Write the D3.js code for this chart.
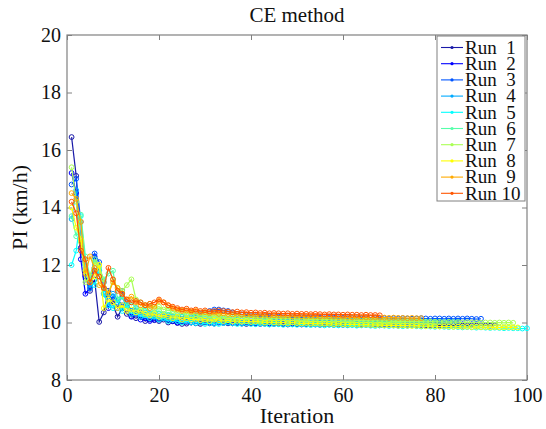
<!DOCTYPE html>
<meta charset="utf-8">
<script src="https://d3js.org/d3.v7.min.js"></script>
<style>
  body { margin: 0; background: #fff; }
  text { font-family: "Liberation Serif", "Times New Roman", serif; fill: #111; }
</style>
<body>
<div id="my_dataviz"></div>
<script>

// series values, one array per run (iteration 1..N)
var run1 = [16.45,15.1,12.6,11.6,11.1,11.5,10.02,10.35,11.1,10.6,10.2,10.5,10.3,10.22,10.15,10.2,10.05,10.1,10.08,10.05,
  10.1,10.0,10.04,9.98,9.95,9.96,10.0,9.97,9.95,10.0,9.97,9.96,10.0,9.98,9.97,9.97,9.98,9.96,9.95,9.97,
  9.96,9.95,9.96,9.94,9.95,9.96,9.94,9.93,9.95,9.94,9.93,9.94,9.95,9.93,9.92,9.94,9.93,9.92,9.93,9.92,
  9.91,9.93,9.92,9.91,9.92,9.91,9.92,9.9,9.91,9.92,9.91,9.9,9.91,9.9,9.92,9.9,9.91,9.9,9.9,9.91,
  9.9,9.89,9.9,9.91,9.9,9.89,9.9,9.9,9.89,9.9,9.9,9.89,9.9]
var run2 = [15.2,14.5,12.2,11.0,11.2,12.3,11.8,11.4,10.5,10.8,10.5,11.1,10.6,10.2,10.4,10.1,10.15,10.05,10.1,10.1,
  10.15,10.1,10.05,10.0,10.05,10.02,10.0,10.04,10.0,10.02,10.0,9.98,10.0,10.02,10.0,9.99,10.0,9.98,10.0,9.99,
  9.98,10.0,9.99,9.97,9.98,9.99,9.97,9.98,9.97,9.96,9.98,9.97,9.96,9.97,9.96,9.95,9.97,9.96,9.95,9.96,
  9.95,9.96,9.95,9.94,9.95,9.96,9.95,9.94,9.95,9.94,9.95,9.94,9.93,9.94,9.95,9.94,9.93,9.94,9.93,9.94,
  9.93,9.94,9.93,9.93,9.94,9.93,9.92,9.93]
var run3 = [14.8,15.0,13.5,12.0,11.3,12.4,12.1,11.0,10.6,10.9,10.8,10.6,10.7,10.4,10.3,10.35,10.2,10.25,10.2,10.2,
  10.25,10.2,10.15,10.2,10.2,10.15,10.2,10.25,10.3,10.35,10.4,10.45,10.45,10.42,10.4,10.35,10.3,10.28,10.25,10.25,
  10.22,10.2,10.22,10.2,10.18,10.2,10.18,10.17,10.18,10.17,10.18,10.16,10.17,10.16,10.17,10.15,10.16,10.17,10.15,10.16,
  10.15,10.16,10.15,10.14,10.15,10.16,10.15,10.14,10.15,10.14,10.15,10.14,10.15,10.14,10.13,10.14,10.15,10.14,10.13,10.14,
  10.14,10.13,10.14,10.13,10.14,10.13,10.14,10.13,10.12,10.13]
var run4 = [13.6,14.6,12.9,11.8,11.2,11.9,11.6,11.2,10.9,11.0,10.7,10.9,10.5,10.4,10.5,10.3,10.35,10.3,10.25,10.3,
  10.2,10.25,10.2,10.15,10.2,10.18,10.15,10.2,10.15,10.12,10.15,10.1,10.12,10.15,10.1,10.12,10.1,10.08,10.1,10.12,
  10.1,10.08,10.1,10.08,10.06,10.08,10.1,10.08,10.06,10.08,10.06,10.07,10.05,10.06,10.07,10.05,10.06,10.05,10.04,10.06,
  10.05,10.04,10.05,10.06,10.04,10.05,10.04,10.03,10.05,10.04,10.03,10.04,10.03,10.04,10.03,10.02,10.03,10.04,10.03,10.02,
  10.03,10.02,10.03,10.02,10.02]
var run5 = [12.0,12.5,13.7,12.0,11.5,11.3,11.8,11.0,10.6,10.5,10.8,10.4,10.6,10.3,10.35,10.2,10.25,10.15,10.2,10.1,
  10.15,10.05,10.1,10.05,10.0,10.05,10.0,9.98,10.0,9.95,9.98,9.96,9.95,9.98,10.0,9.97,9.95,9.96,9.98,9.95,
  9.94,9.96,9.95,9.93,9.95,9.94,9.92,9.94,9.93,9.92,9.94,9.92,9.91,9.93,9.92,9.9,9.92,9.91,9.9,9.92,
  9.9,9.91,9.89,9.9,9.91,9.89,9.88,9.9,9.89,9.88,9.89,9.88,9.87,9.88,9.89,9.87,9.86,9.87,9.86,9.85,
  9.86,9.85,9.84,9.85,9.84,9.83,9.84,9.83,9.82,9.83,9.82,9.81,9.82,9.81,9.8,9.81,9.8,9.8,9.79,9.8]
var run6 = [13.7,13.0,13.75,12.3,11.6,12.2,11.9,11.5,11.7,11.8,10.8,10.9,10.6,10.7,10.5,10.45,10.5,10.4,10.35,10.4,
  10.3,10.35,10.3,10.25,10.3,10.25,10.2,10.22,10.2,10.18,10.2,10.15,10.18,10.15,10.12,10.15,10.12,10.1,10.12,10.1,
  10.1,10.08,10.1,10.07,10.08,10.06,10.08,10.05,10.06,10.05,10.06,10.04,10.05,10.04,10.03,10.05,10.03,10.02,10.04,10.02,
  10.03,10.02,10.01,10.02,10.0,10.02,10.01,10.0,10.01,10.0,9.99,10.0,9.99,9.98,9.99,9.98,9.99,9.98,9.97,9.98]
var run7 = [15.4,14.2,12.8,11.4,11.6,12.1,12.0,11.4,11.0,11.5,11.2,11.1,11.3,11.5,10.8,10.7,10.6,10.65,10.5,10.55,
  10.45,10.5,10.4,10.35,10.4,10.3,10.35,10.3,10.25,10.3,10.25,10.28,10.22,10.25,10.2,10.22,10.2,10.18,10.2,10.18,
  10.16,10.18,10.15,10.17,10.15,10.14,10.15,10.13,10.14,10.12,10.13,10.12,10.11,10.12,10.1,10.11,10.1,10.09,10.1,10.08,
  10.09,10.08,10.07,10.08,10.06,10.07,10.06,10.05,10.06,10.05,10.04,10.05,10.04,10.03,10.04,10.03,10.03,10.02,10.03,10.02,
  10.02,10.01,10.02,10.01,10.01,10.0,10.01,10.0,10.0,9.99,10.0,10.0,9.99,10.0,9.99,10.0,9.99]
var run8 = [14.0,13.3,12.9,11.8,11.4,11.6,12.0,10.5,10.8,10.7,10.5,10.6,10.4,10.45,10.35,10.4,10.3,10.25,10.3,10.2,
  10.25,10.2,10.15,10.2,10.1,10.15,10.1,10.12,10.08,10.1,10.05,10.1,10.08,10.05,10.08,10.04,10.06,10.03,10.05,10.02,
  10.04,10.02,10.0,10.02,10.0,9.99,10.0,9.98,10.0,9.98,9.97,9.98,9.96,9.97,9.96,9.95,9.96,9.94,9.95,9.94,
  9.93,9.94,9.93,9.92,9.93,9.92,9.91,9.92,9.9,9.91,9.9,9.89,9.9,9.89,9.88,9.89,9.88,9.87,9.88,9.87,
  9.86,9.87,9.86,9.85,9.86,9.85,9.85,9.84,9.85,9.84,9.84,9.83,9.84,9.83,9.83,9.84,9.83,9.83]
var run9 = [14.5,14.3,13.5,11.7,12.3,11.9,11.3,11.2,11.0,11.4,11.2,11.0,10.8,10.9,10.7,10.6,10.6,10.5,10.55,10.75,
  10.7,10.6,10.5,10.45,10.4,10.42,10.38,10.4,10.35,10.36,10.32,10.34,10.3,10.32,10.3,10.28,10.3,10.27,10.28,10.26,
  10.27,10.25,10.26,10.24,10.25,10.24,10.23,10.24,10.22,10.23,10.22,10.21,10.22,10.21,10.2,10.21,10.2,10.2,10.19,10.2,
  10.19,10.18,10.19,10.18,10.18,10.17,10.18,10.17,10.17,10.16,10.17,10.16,10.16,10.15,10.16,10.15,10.15]
var run10 = [14.2,13.8,12.5,12.2,11.4,11.8,11.6,11.2,11.9,11.5,11.1,11.0,10.8,10.7,10.75,10.7,10.6,10.65,10.7,10.8,
  10.7,10.6,10.55,10.5,10.45,10.48,10.42,10.45,10.4,10.42,10.38,10.4,10.42,10.4,10.38,10.36,10.38,10.35,10.36,10.34,
  10.35,10.33,10.34,10.32,10.33,10.32,10.31,10.32,10.3,10.31,10.3,10.3,10.29,10.3,10.29,10.28,10.29,10.28,10.28,10.27,
  10.28,10.27,10.27,10.26,10.27,10.26,10.26,10.25]

var runNames = ["Run  1","Run  2","Run  3","Run  4","Run  5","Run  6","Run  7","Run  8","Run  9","Run 10"]
var runValues = [run1, run2, run3, run4, run5, run6, run7, run8, run9, run10]
// MATLAB jet(10)
var runColors = ["#1a1aa8","#0000ff","#0055ff","#00aaff","#00ffff","#55ffaa","#aaff55","#ffff00","#ffaa00","#ff5500"]

var xTicks = [0, 20, 40, 60, 80, 100]
var yTicks = [8, 10, 12, 14, 16, 18, 20]

// set the dimensions and margins of the graph
var width = 546,
    height = 429,
    margin = {top: 35, right: 19, bottom: 49, left: 67}

var svg = d3.select("#my_dataviz")
  .append("svg")
    .attr("width", width)
    .attr("height", height)

var x = d3.scaleLinear().domain([0, 100]).range([margin.left, width - margin.right])
var y = d3.scaleLinear().domain([8, 20]).range([height - margin.bottom, margin.top])

var axisColor = "#808080"

// axes (ticks inward on all four sides, like matlab box on)
function styleAxis(g) {
  g.select(".domain").remove()
  g.selectAll(".tick line").attr("stroke", axisColor)
  g.selectAll(".tick text").style("font-size", "20px").attr("fill", "#111")
}

svg.append("g")
  .attr("transform", "translate(0," + y(8) + ")")
  .call(d3.axisBottom(x).tickValues(xTicks).tickSizeInner(-5).tickSizeOuter(0).tickPadding(8))
  .call(styleAxis)

svg.append("g")
  .attr("transform", "translate(0," + y(20) + ")")
  .call(d3.axisTop(x).tickValues(xTicks).tickSizeInner(-5).tickSizeOuter(0).tickFormat(""))
  .call(styleAxis)

svg.append("g")
  .attr("transform", "translate(" + x(0) + ",0)")
  .call(d3.axisLeft(y).tickValues(yTicks).tickSizeInner(-5).tickSizeOuter(0).tickPadding(6))
  .call(styleAxis)

svg.append("g")
  .attr("transform", "translate(" + x(100) + ",0)")
  .call(d3.axisRight(y).tickValues(yTicks).tickSizeInner(-5).tickSizeOuter(0).tickFormat(""))
  .call(styleAxis)

// plot box
svg.append("rect")
  .attr("x", x(0))
  .attr("y", y(20))
  .attr("width", x(100) - x(0))
  .attr("height", y(8) - y(20))
  .attr("fill", "none")
  .attr("stroke", axisColor)
  .attr("stroke-width", 1.2)

// lines and markers
var line = d3.line()
  .x(function(d, i) { return x(i + 1) })
  .y(function(d) { return y(d) })

runValues.forEach(function(vals, k) {
  var g = svg.append("g")
  g.append("path")
    .datum(vals)
    .attr("d", line)
    .attr("fill", "none")
    .attr("stroke", runColors[k])
    .attr("stroke-width", 1.2)
  g.selectAll("circle")
    .data(vals)
    .enter()
    .append("circle")
      .attr("cx", function(d, i) { return x(i + 1) })
      .attr("cy", function(d) { return y(d) })
      .attr("r", 2.4)
      .attr("fill", "none")
      .attr("stroke", runColors[k])
      .attr("stroke-width", 1)
})

// titles
svg.append("text")
  .attr("x", (x(0) + x(100)) / 2)
  .attr("y", 22)
  .attr("text-anchor", "middle")
  .style("font-size", "21px")
  .text("CE method")

svg.append("text")
  .attr("x", (x(0) + x(100)) / 2)
  .attr("y", 423)
  .attr("text-anchor", "middle")
  .style("font-size", "22px")
  .text("Iteration")

svg.append("text")
  .attr("transform", "translate(27," + (y(8) + y(20)) / 2 + ") rotate(-90)")
  .attr("text-anchor", "middle")
  .style("font-size", "22px")
  .text("PI (km/h)")

// legend
var legend = svg.append("g")
legend.append("rect")
  .attr("x", 437)
  .attr("y", 36)
  .attr("width", 88)
  .attr("height", 165)
  .attr("fill", "#fff")
  .attr("stroke", axisColor)

var item = legend.selectAll(".legend")
  .data(runNames)
  .enter()
  .append("g")
  .attr("class", "legend")
  .attr("transform", function(d, i) { return "translate(441," + (47.5 + i * 16.2) + ")" })

item.append("line")
  .attr("x1", 0).attr("x2", 22)
  .attr("stroke", function(d, i) { return runColors[i] })
  .attr("stroke-width", 1.1)
item.append("circle")
  .attr("cx", 11)
  .attr("r", 1.6)
  .attr("fill", function(d, i) { return runColors[i] })
item.append("text")
  .attr("x", 24)
  .attr("dy", "0.33em")
  .style("font-size", "19px")
  .style("white-space", "pre")
  .text(function(d) { return d })

</script>
</body>
